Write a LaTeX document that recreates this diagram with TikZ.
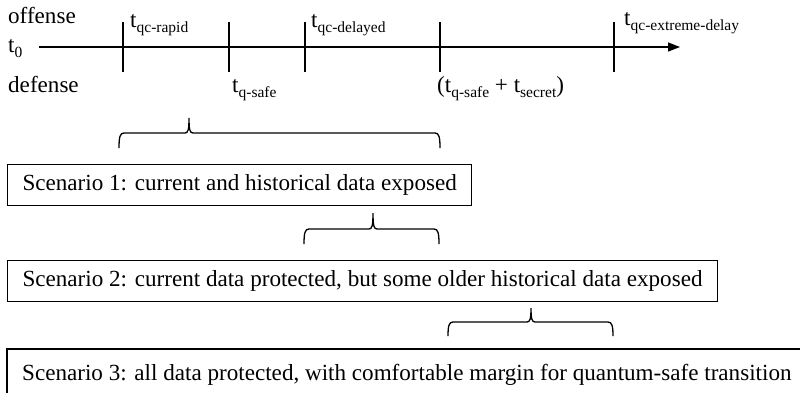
\documentclass[tikz,border=0pt]{standalone}
\usepackage{fontspec}
\setmainfont{Liberation Serif}
\usetikzlibrary{arrows.meta}
% "t" with a lowered, smaller subscript label
\newcommand\tsub[1]{t\raisebox{-5.5pt}{\fontsize{15.5}{17}\selectfont #1}}
% curly brace opening downwards: left x, cusp x, right x, cusp top y, bar y, tip y
\newcommand\drawbrace[6]{%
  \draw[scenbrace] (#1,#6) .. controls (#1,#5+4) and (#1+1,#5) .. (#1+5,#5)
    -- (#2-4,#5) .. controls (#2-1,#5) and (#2,#5-3) .. (#2,#4)
    .. controls (#2,#5-3) and (#2+1,#5) .. (#2+4,#5)
    -- (#3-5,#5) .. controls (#3-1,#5) and (#3,#5+4) .. (#3,#6);}
\begin{document}
\begin{tikzpicture}[x=1pt,y=-1pt,
  every node/.style={font=\fontsize{23.1}{28}\selectfont, inner sep=0pt},
  lbl/.style={anchor=base west},
  tickline/.style={line width=1.3pt},
  scenbrace/.style={line width=1.3pt},
  boxline/.style={line width=1.1pt},
  scenbox/.style={draw, boxline, anchor=north west, minimum height=41pt,
    inner xsep=15pt, align=left}]
\useasboundingbox (0,0) rectangle (800,392);
\clip (0,0) rectangle (800,392);

% time axis
\coordinate (axstart) at (39,47);
\coordinate (axend) at (680,47);
\draw[line width=1.3pt, -{Triangle[length=12pt,width=9pt]}] (axstart) -- (axend);

% ticks
\foreach \x/\n in {123/rapid,229/qsafe,305/delayed,440/secret,614/extreme}
  \draw[tickline] (\x,22) coordinate (top-\n) -- (\x,72) coordinate (bot-\n);

% side labels
\node[lbl] (offense) at (8,23) {offense};
\node[lbl] (tzero) at (8,52) {\tsub{0}};
\node[lbl] (defense) at (8,92) {defense};

% offense labels above the axis
\node[lbl] (trapid) at (130,27) {\tsub{qc-rapid}};
\node[lbl] (tdelayed) at (311,27) {\tsub{qc-delayed}};
\node[lbl] (textreme) at (624,25) {\tsub{qc-extreme-delay}};

% defense labels below the axis
\node[lbl] (tqsafe) at (232,92) {\tsub{q-safe}};
\node[lbl] (tsecret) at (437,92) {(\tsub{q-safe} + \tsub{secret})};

% scenario braces
\drawbrace{119}{189}{440}{118}{133}{148}
\drawbrace{304}{373}{439}{213}{229}{244}
\drawbrace{448}{531}{613}{308}{322}{336}

% scenario boxes
\node[scenbox] (scen1) at (7,164) {Scenario 1: current and historical data exposed};
\node[scenbox] (scen2) at (7,260) {Scenario 2: current data protected, but some older historical data exposed};
% the last box runs on past the right and bottom edges
\draw[boxline] (7,420) -- (7,349) -- (830,349);
\node[lbl] (scen3) at (22,380) {Scenario 3: all data protected, with comfortable margin for quantum-safe transition};
\end{tikzpicture}
\end{document}
